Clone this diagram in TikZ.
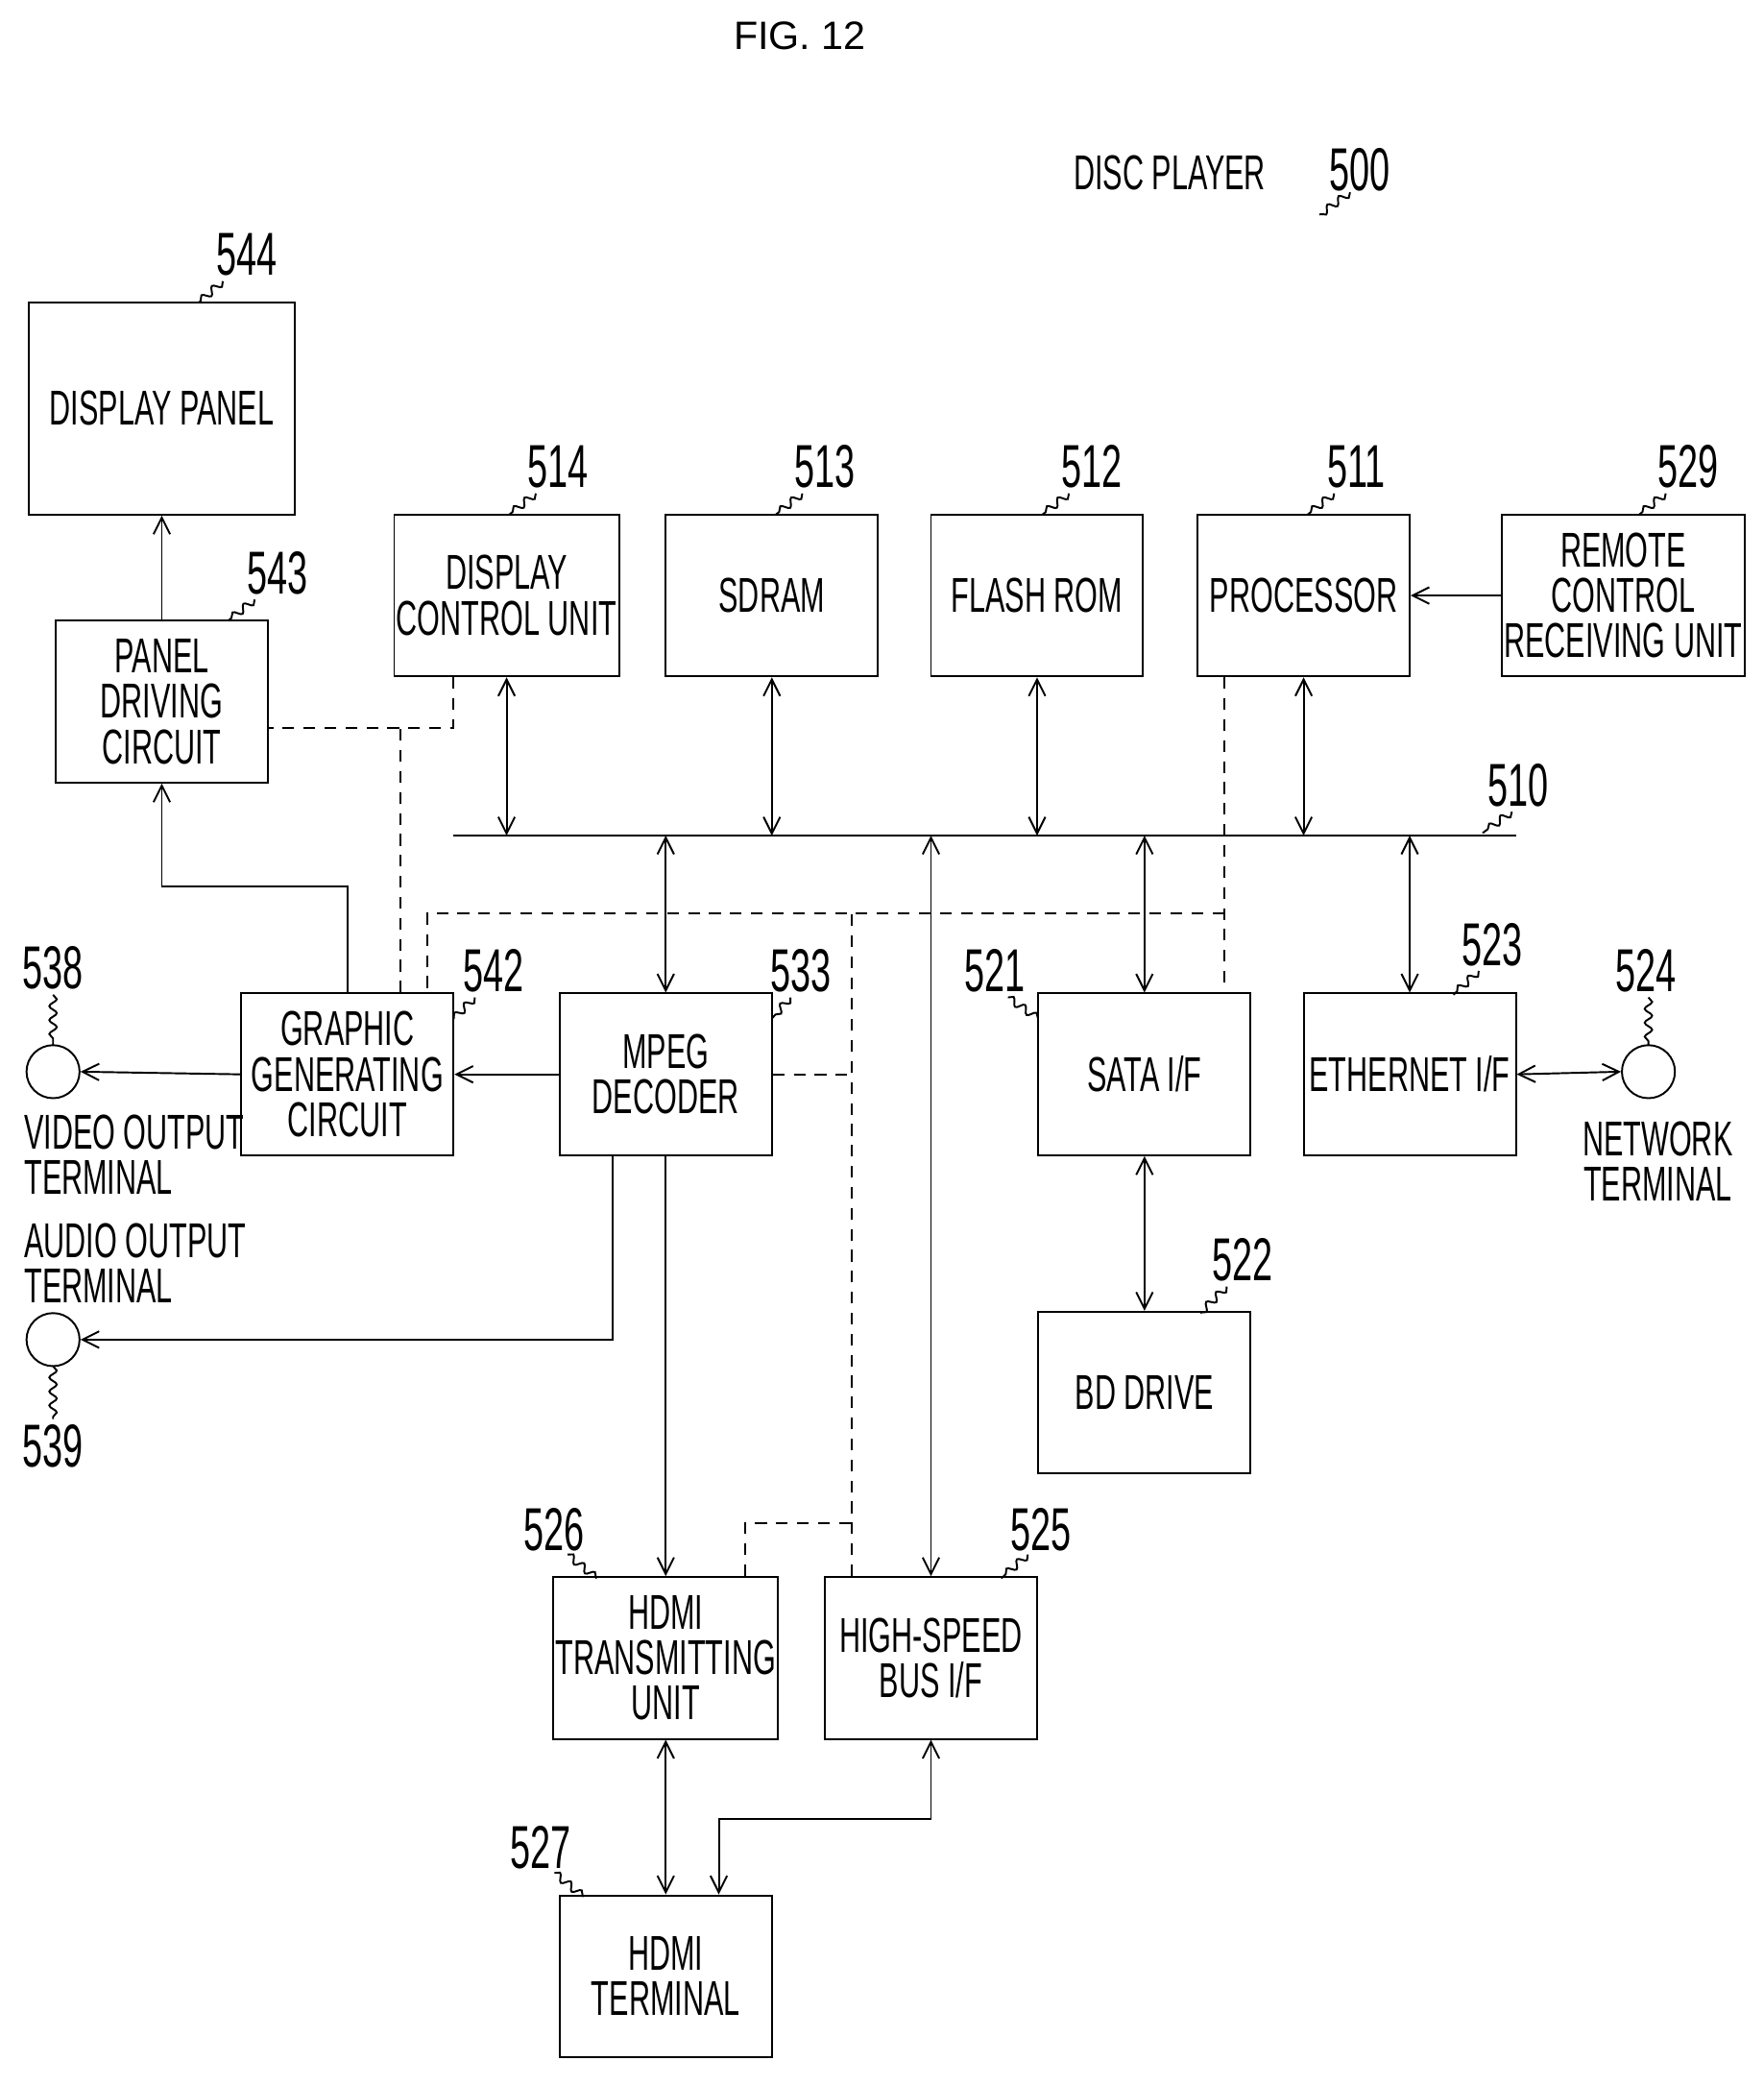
\documentclass[tikz,border=0pt]{standalone}
\usepackage{fontspec}
\setmainfont{Liberation Sans}[FakeStretch=0.6]
\newfontfamily\titlefont{Liberation Sans}
\usetikzlibrary{arrows.meta,calc,decorations.pathmorphing}
\begin{document}
\begin{tikzpicture}[x=0.02cm,y=-0.02cm,
  font=\fontsize{21}{19.5}\selectfont,
  box/.style={draw, thick, align=center, minimum width=3.2cm, minimum height=2.44cm, inner sep=1pt},
  term/.style={draw, thick, circle, minimum size=0.8cm, inner sep=0pt},
  num/.style={font=\fontsize{26}{28}\selectfont},
  arr/.style={-{Straight Barb[length=2.5mm,width=2.5mm]}, thick},
  dbl/.style={{Straight Barb[length=2.5mm,width=2.5mm]}-{Straight Barb[length=2.5mm,width=2.5mm]}, thick},
  dsh/.style={thick, dashed, dash pattern=on 5pt off 4pt},
  lead/.style={decorate, decoration={snake, segment length=6pt, amplitude=1.6pt}, thick}
]
  \useasboundingbox (0,0) rectangle (1330,1572);

  % Title
  \node[font=\titlefont\fontsize{17}{19}\selectfont] (title) at (603,27) {FIG. 12};
  \node (dp) at (882,130) {DISC PLAYER};
  \node[num] (n500) at (1025,128) {500};
  \draw[lead] (1018,145) -- (995,162);

  % Top row
  \node[box, minimum width=4cm, minimum height=3.2cm] (dpan) at (122,308) {DISPLAY PANEL};
  \node[box] (pdc) at (122,529) {PANEL\\DRIVING\\CIRCUIT};
  \node[box] (dctl) at (382,449) {DISPLAY\\CONTROL UNIT};
  \node[box] (sdram) at (582,449) {SDRAM};
  \node[box] (flash) at (782,449) {FLASH ROM};
  \node[box] (proc) at (983,449) {PROCESSOR};
  \node[box, minimum width=3.48cm] (rcu) at (1224,449) {REMOTE\\CONTROL\\RECEIVING UNIT};

  % Bus
  \coordinate (busL) at (342,630);
  \coordinate (busR) at (1143,630);
  \draw[thick] (busL) -- (busR);

  % Middle row
  \node[box] (gfx) at (262,810) {GRAPHIC\\GENERATING\\CIRCUIT};
  \node[box] (mpeg) at (502,810) {MPEG\\DECODER};
  \node[box] (sata) at (863,810) {SATA I/F};
  \node[box] (eth) at (1063,810) {ETHERNET I/F};
  \node[term] (vout) at (40,808) {};
  \node[term] (net) at (1243,808) {};
  \node[term] (aout) at (40,1010) {};
  \node[align=left, anchor=north west, inner sep=0pt] (vtxt) at (18,840) {VIDEO OUTPUT\\TERMINAL};
  \node[align=left, anchor=north west, inner sep=0pt] (atxt) at (18,922) {AUDIO OUTPUT\\TERMINAL};
  \node[align=center, anchor=north, inner sep=0pt] (ntxt) at (1250,845) {NETWORK\\TERMINAL};

  % Lower boxes
  \node[box] (bd) at (863,1050) {BD DRIVE};
  \node[box] (hdmit) at (502,1250) {HDMI\\TRANSMITTING\\UNIT};
  \node[box] (hsb) at (702,1250) {HIGH-SPEED\\BUS I/F};
  \node[box] (hterm) at (502,1490) {HDMI\\TERMINAL};

  % Solid connectors
  \draw[arr] (pdc.north) -- (dpan.south);
  \draw[arr] (gfx.north) -- ++(0,-80) -| (pdc.south);
  \draw[arr] (rcu.west) -- (proc.east);
  \foreach \b in {dctl,sdram,flash,proc}
    \draw[dbl] (\b.south) -- (\b.south |- busL);
  \foreach \b in {mpeg,sata,eth}
    \draw[dbl] (\b.north |- busL) -- (\b.north);
  \draw[dbl] (hsb.north |- busL) -- (hsb.north);
  \draw[arr] (mpeg.west) -- (gfx.east);
  \draw[arr] (gfx.west) -- (vout.east);
  \draw[arr] (mpeg.south) -- (hdmit.north);
  \draw[arr] ($(mpeg.south)+(-40,0)$) |- (aout.east);
  \draw[dbl] (sata.south) -- (bd.north);
  \draw[dbl] (eth.east) -- (net.west);
  \draw[dbl] (hdmit.south) -- (hterm.north);
  \draw[dbl] (hsb.south) -- ++(0,60) -| ($(hterm.north)+(40,0)$);

  % Control lines
  \draw[dsh] ($(dctl.south)+(-40,0)$) |- ($(pdc.south east)+(0,-42)$);
  \draw[dsh] ($(gfx.north)+(40,0)$) -- ++(0,-202);
  \draw[dsh] ($(proc.south)+(-60,0)$) -- ($(sata.north)+(60,0)$);
  \draw[dsh] ($(proc.south)+(-60,178)$) -| ($(gfx.north)+(60,0)$);
  \draw[dsh] ($(hsb.north)+(-60,0)$) -- ++(0,-502);
  \draw[dsh] (mpeg.east) -- ++(60,0);
  \draw[dsh] ($(hdmit.north)+(60,0)$) -- ++(0,-40) -- ++(80,0);

  % Reference numerals
  \node[num] (n544) at (186,192) {544};
  \draw[lead] (168,212) -- (150,228);
  \node[num] (n543) at (209,432) {543};
  \draw[lead] (192,452) -- (172,468);
  \node[num] (n514) at (421,352) {514};
  \draw[lead] (404,372) -- (384,388);
  \node[num] (n513) at (622,352) {513};
  \draw[lead] (605,372) -- (585,388);
  \node[num] (n512) at (823,352) {512};
  \draw[lead] (806,372) -- (786,388);
  \node[num] (n511) at (1023,352) {511};
  \draw[lead] (1006,372) -- (986,388);
  \node[num] (n529) at (1273,352) {529};
  \draw[lead] (1256,372) -- (1236,388);
  \node[num] (n510) at (1145,592) {510};
  \draw[lead] (1140,612) -- (1118,628);
  \node[num] (n542) at (372,732) {542};
  \draw[lead] (358,752) -- (342,768);
  \node[num] (n533) at (604,732) {533};
  \draw[lead] (596,752) -- (582,768);
  \node[num] (n521) at (750,732) {521};
  \draw[lead] (760,752) -- (783,768);
  \node[num] (n523) at (1125,712) {523};
  \draw[lead] (1115,732) -- (1096,750);
  \node[num] (n524) at (1241,732) {524};
  \draw[lead] (1243,752) -- (1243,788);
  \node[num] (n538) at (40,730) {538};
  \draw[lead] (40,750) -- (40,788);
  \node[num] (n539) at (40,1090) {539};
  \draw[lead] (40,1030) -- (40,1070);
  \node[num] (n522) at (937,950) {522};
  \draw[lead] (925,970) -- (905,990);
  \node[num] (n526) at (418,1153) {526};
  \draw[lead] (428,1172) -- (450,1190);
  \node[num] (n525) at (785,1153) {525};
  \draw[lead] (775,1172) -- (755,1190);
  \node[num] (n527) at (408,1393) {527};
  \draw[lead] (418,1412) -- (440,1430);
\end{tikzpicture}
\end{document}
